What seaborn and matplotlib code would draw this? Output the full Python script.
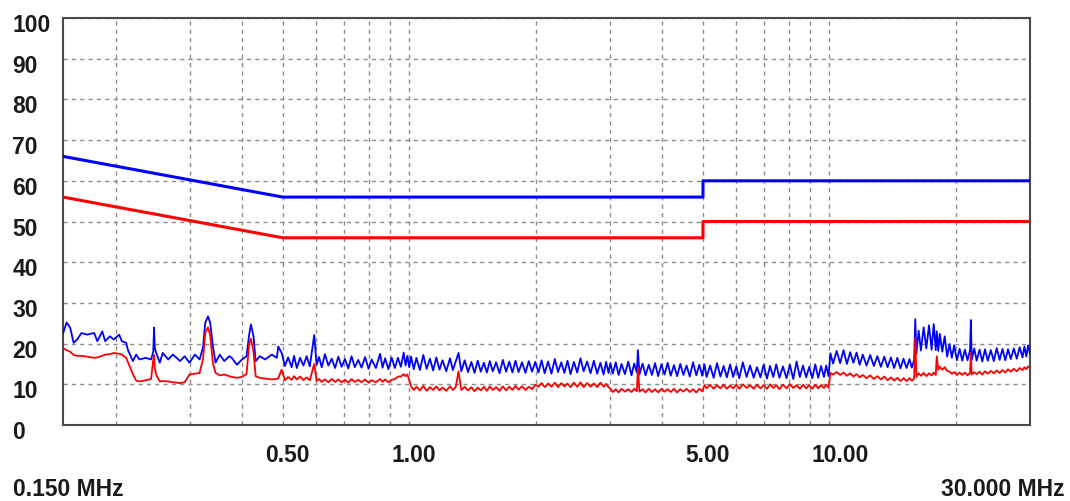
import matplotlib
matplotlib.use("Agg")
import matplotlib.pyplot as plt
from matplotlib.transforms import ScaledTranslation
import pandas as pd
import seaborn as sns

freq_mhz = [
    0.150, 0.151, 0.153, 0.156, 0.159, 0.162, 0.166, 0.171, 0.178, 0.181,
    0.186, 0.189, 0.194, 0.198, 0.204, 0.207, 0.212, 0.214, 0.220, 0.224,
    0.228, 0.236, 0.243, 0.246, 0.247, 0.248, 0.250, 0.255, 0.259, 0.267,
    0.274, 0.285, 0.292, 0.300, 0.309, 0.317, 0.323, 0.327, 0.332, 0.336,
    0.341, 0.346, 0.354, 0.363, 0.373, 0.378, 0.389, 0.399, 0.410, 0.416,
    0.420, 0.426, 0.431, 0.441, 0.454, 0.471, 0.484, 0.488, 0.497,
    0.506, 0.515, 0.525, 0.532, 0.540, 0.550, 0.560, 0.570, 0.580, 0.594,
    0.602, 0.610, 0.619, 0.630, 0.642, 0.654, 0.666, 0.678, 0.690, 0.703,
    0.716, 0.729, 0.742, 0.756, 0.770, 0.785, 0.800, 0.814, 0.833, 0.852,
    0.864, 0.876, 0.892, 0.908, 0.924, 0.94, 0.955, 0.97, 0.98, 0.99,
    1.00, 1.01, 1.025, 1.04, 1.06, 1.08, 1.10, 1.12, 1.14, 1.16,
    1.18, 1.20, 1.225, 1.25, 1.27, 1.29, 1.31, 1.33, 1.355, 1.38,
    1.405, 1.43, 1.455, 1.48, 1.505, 1.53, 1.555, 1.58, 1.61, 1.64,
    1.67, 1.70, 1.73, 1.76, 1.79, 1.82, 1.855, 1.89, 1.925, 1.96,
    1.995, 2.03, 2.065, 2.10, 2.14, 2.18, 2.22, 2.26, 2.30, 2.34,
    2.38, 2.42, 2.465, 2.51, 2.555, 2.60, 2.65, 2.70, 2.75, 2.80,
    2.85, 2.90, 2.94, 2.98, 3.01, 3.05, 3.10, 3.15, 3.20, 3.26,
    3.32, 3.38, 3.43, 3.48, 3.50, 3.53, 3.59, 3.65, 3.715, 3.78,
    3.845, 3.91, 3.98, 4.05, 4.12, 4.19, 4.265, 4.34, 4.415, 4.49,
    4.57, 4.65, 4.735, 4.82, 4.90, 4.98, 5.04, 5.1, 5.2, 5.3,
    5.4, 5.5, 5.6, 5.7, 5.8, 5.9, 6.0, 6.1, 6.22, 6.35,
    6.47, 6.6, 6.72, 6.85, 6.97, 7.1, 7.22, 7.35, 7.47, 7.6,
    7.75, 7.9, 8.05, 8.2, 8.35, 8.5, 8.65, 8.8, 8.95, 9.1,
    9.25, 9.4, 9.55, 9.7, 9.82, 9.95, 10.05, 10.2, 10.4, 10.6,
    10.8, 11.0, 11.2, 11.4, 11.6, 11.8, 12.0, 12.25, 12.5, 12.75,
    13.0, 13.25, 13.5, 13.75, 14.0, 14.25, 14.5, 14.75, 15.0, 15.25,
    15.5, 15.7, 15.9, 16.0, 16.1, 16.3, 16.5, 16.75, 17.0, 17.25,
    17.5, 17.7, 17.9, 18.0, 18.15, 18.3, 18.55, 18.8, 19.05, 19.3,
    19.55, 19.8, 20.1, 20.4, 20.7, 21.0, 21.3, 21.6, 21.7, 21.8,
    22.1, 22.4, 22.75, 23.1, 23.45, 23.8, 24.2, 24.6, 25.0, 25.4,
    25.8, 26.2, 26.6, 27.0, 27.45, 27.9, 28.35, 28.8, 29.1, 29.4,
    29.7, 30.0,
]
peak_db = [
    22.5, 23.4, 25.2, 23.9, 20.2, 21.0, 22.6, 22.2, 22.6, 20.6,
    23.0, 20.6, 21.8, 21.0, 22.2, 20.6, 20.2, 18.5, 15.7, 17.3,
    16.1, 16.5, 16.1, 18.0, 23.9, 19.0, 17.7, 15.3, 17.7, 16.1,
    17.3, 15.7, 16.9, 15.3, 17.3, 16.1, 19.0, 25.1, 26.7, 25.1,
    19.4, 15.3, 17.3, 15.7, 16.9, 16.5, 14.8, 16.0, 16.9, 22.2,
    24.7, 21.8, 15.7, 16.9, 16.1, 17.3, 16.5, 19.3, 17.7,
    14.5, 16.6, 14.2, 17.0, 14.0, 16.5, 14.6, 16.9, 14.4, 22.1,
    14.8, 16.7, 14.2, 17.4, 14.6, 16.3, 14.0, 16.8, 14.3, 16.2,
    13.9, 16.9, 14.2, 16.0, 14.1, 16.7, 13.8, 16.1, 14.0, 17.5,
    14.1, 16.4, 13.7, 16.6, 14.0, 16.5, 14.3, 17.8, 14.6, 17.0,
    14.2, 16.8, 13.7, 16.5, 13.5, 17.2, 13.8, 16.3, 13.4, 16.6,
    13.6, 15.9, 13.2, 16.4, 13.5, 15.6, 17.7, 13.2, 15.9, 13.0,
    15.5, 12.8, 15.8, 13.1, 15.3, 12.9, 15.7, 13.2, 15.4, 12.7,
    16.0, 13.1, 15.6, 12.9, 15.8, 13.0, 15.4, 12.8, 15.7, 13.1,
    15.5, 12.9, 15.9, 12.7, 15.6, 12.6, 16.2, 13.0, 15.4, 12.8,
    15.8, 12.5, 15.5, 12.9, 16.4, 13.2, 15.6, 12.7, 15.8, 12.6,
    15.3, 12.4, 15.5, 12.8, 15.2, 12.6, 15.4, 12.3, 15.0, 12.5,
    15.6, 12.2, 15.1, 12.9, 18.4, 12.4, 15.1, 12.2, 14.8, 12.3,
    15.2, 12.0, 14.9, 12.4, 15.3, 12.1, 14.7, 12.0, 15.0, 12.3,
    14.6, 11.9, 15.4, 12.2, 14.8, 12.1, 14.9, 11.8, 14.6, 11.6,
    15.2, 11.9, 14.5, 11.7, 14.9, 11.8, 14.4, 11.5, 15.4, 11.8,
    14.6, 11.6, 14.2, 11.7, 14.8, 11.4, 14.5, 11.8, 14.9, 11.6,
    14.4, 11.5, 14.8, 11.3, 15.6, 11.8, 14.6, 11.7, 14.3, 11.5,
    14.9, 11.6, 14.5, 11.8, 14.6, 12.0, 17.6, 15.1, 18.2, 15.2,
    18.4, 15.0, 17.9, 15.3, 17.8, 14.8, 17.3, 14.6, 17.2, 14.5,
    16.9, 14.3, 16.8, 14.2, 16.6, 14.0, 16.5, 13.9, 16.3, 14.0,
    16.2, 14.1, 16.0, 26.0, 17.5, 23.2, 18.3, 24.0, 18.8, 24.5,
    18.5, 24.8, 18.4, 23.0, 18.2, 22.4, 18.0, 21.8, 16.8, 19.9,
    16.5, 19.6, 15.9, 18.7, 15.8, 18.5, 15.9, 18.4, 25.8, 16.0,
    18.8, 15.8, 18.5, 15.6, 18.6, 15.8, 18.4, 15.7, 18.9, 16.0,
    18.7, 15.9, 18.6, 16.2, 18.8, 16.3, 19.1, 16.6, 19.3, 16.8,
    19.6, 17.5,
]
avg_db = [
    19.0, 18.7, 18.4, 18.0, 17.2, 17.0, 17.0, 16.8, 16.5, 16.6,
    17.0, 17.3, 17.4, 17.7, 17.5, 17.3, 16.5, 15.5, 12.5, 10.9,
    10.7, 11.0, 11.3, 16.1, 17.2, 14.0, 12.3, 10.7, 10.8, 10.7,
    10.5, 10.3, 10.5, 12.4, 12.6, 12.8, 16.1, 22.6, 24.0, 22.0,
    15.2, 12.8, 12.2, 12.4, 12.0, 11.8, 11.6, 11.8, 12.5, 20.0,
    21.2, 18.0, 12.0, 11.6, 11.4, 11.2, 11.3, 11.5, 13.6,
    11.0, 11.8, 11.1, 12.0, 11.2, 11.9, 11.0, 11.7, 11.0, 15.0,
    10.8, 11.3, 10.6, 11.2, 10.5, 11.3, 10.6, 11.2, 10.5, 11.1,
    10.4, 11.3, 10.6, 11.1, 10.5, 11.2, 10.4, 11.0, 10.5, 11.3,
    10.6, 11.2, 10.5, 11.1, 11.3, 11.9, 11.9, 12.5, 12.0, 12.4,
    11.0, 9.5, 8.6, 9.4, 8.5, 9.6, 8.4, 9.3, 8.6, 9.5,
    8.5, 9.2, 8.4, 9.5, 8.6, 9.3, 13.2, 8.6, 9.4, 8.5,
    9.3, 8.3, 9.2, 8.5, 9.4, 8.4, 9.5, 8.6, 9.3, 8.4,
    9.5, 8.5, 9.4, 8.6, 9.6, 8.7, 9.5, 8.6, 9.4, 8.8,
    9.9, 9.4, 10.3, 9.3, 10.2, 9.4, 10.4, 9.3, 10.3, 9.5,
    10.2, 9.3, 10.4, 9.4, 10.5, 9.3, 10.3, 9.4, 10.2, 9.3,
    10.4, 9.4, 10.1, 9.3, 8.9, 8.1, 8.8, 8.0, 8.9, 8.2,
    8.8, 8.1, 8.9, 8.3, 14.0, 8.2, 8.8, 8.0, 8.9, 8.1,
    8.8, 8.0, 8.9, 8.2, 8.8, 8.1, 8.9, 8.0, 8.8, 8.2,
    8.9, 8.1, 8.8, 8.0, 8.9, 8.3, 9.8, 9.0, 9.9, 8.9,
    9.8, 9.0, 9.9, 8.9, 9.7, 9.0, 9.9, 8.9, 10.0, 9.1,
    9.8, 8.9, 9.9, 9.0, 9.8, 8.9, 10.0, 9.1, 9.8, 8.8,
    9.9, 9.0, 10.0, 9.1, 9.8, 8.9, 9.9, 9.0, 9.8, 8.9,
    9.9, 9.0, 9.8, 9.1, 9.9, 9.2, 12.8, 12.4, 13.0, 12.3,
    12.9, 12.1, 12.7, 11.9, 12.5, 11.7, 12.3, 11.5, 12.2, 11.3,
    12.0, 11.2, 11.9, 11.0, 11.7, 10.9, 11.6, 10.8, 11.5, 10.8,
    11.5, 10.9, 11.4, 21.4, 11.8, 12.7, 12.1, 12.8, 12.0, 12.7,
    12.2, 12.9, 12.3, 16.9, 13.6, 14.3, 13.6, 14.2, 13.3, 13.1,
    12.6, 13.0, 12.3, 12.9, 12.3, 12.9, 12.2, 12.8, 17.7, 12.4,
    13.0, 12.5, 13.1, 12.4, 13.2, 12.6, 13.3, 12.7, 13.4, 12.8,
    13.5, 12.9, 13.7, 13.1, 13.8, 13.2, 14.0, 13.5, 14.2, 13.7,
    14.4, 14.0,
]
assert len(freq_mhz) == len(peak_db) == len(avg_db)

# limit lines (quasi-peak and average)
limit_freq = [0.15, 0.5, 5.0, 5.0, 30.0]
qp_limit_db = [66, 56, 56, 60, 60]
av_limit_db = [56, 46, 46, 50, 50]

y_ticks = [0, 10, 20, 30, 40, 50, 60, 70, 80, 90, 100]
x_ticks = [0.5, 1.0, 5.0, 10.0]
x_tick_labels = ["0.50", "1.00", "5.00", "10.00"]
x_grid = [0.2, 0.3, 0.4, 0.6, 0.7, 0.8, 0.9, 2, 3, 4, 6, 7, 8, 9, 20]

sns.set_style("white")
plt.rcParams["font.family"] = ["Liberation Sans", "DejaVu Sans"]

trace = pd.DataFrame({"freq": freq_mhz, "peak": peak_db, "avg": avg_db})
limits = pd.DataFrame({"freq": limit_freq, "qp": qp_limit_db, "av": av_limit_db})

fig = plt.figure(figsize=(10.7, 5.01), dpi=100)
ax = fig.add_axes([63 / 1070, 76 / 501, 967 / 1070, 407 / 501])

line_kw = dict(estimator=None, sort=False, legend=False, ax=ax)
sns.lineplot(data=trace, x="freq", y="peak", color="#0000ff", lw=1.3, zorder=3, **line_kw)
sns.lineplot(data=trace, x="freq", y="avg", color="#ff0000", lw=1.3, zorder=4, **line_kw)
sns.lineplot(data=limits, x="freq", y="qp", color="#0000ff", lw=2.2, zorder=5, **line_kw)
sns.lineplot(data=limits, x="freq", y="av", color="#ff0000", lw=2.2, zorder=5, **line_kw)

ax.set_xscale("log")
ax.set_xlim(0.15, 30)
ax.set_ylim(0, 100)
ax.set_xticks(x_ticks)
ax.set_xticks(x_grid, minor=True)
ax.set_xticklabels(x_tick_labels, fontsize=16.5, fontweight="bold", ha="left", color="#1a1a1a")
ax.set_xticklabels([], minor=True)
ax.set_yticks(y_ticks)
ax.set_yticklabels([str(v) for v in y_ticks], fontsize=16.5, fontweight="bold",
                   ha="left", color="#1a1a1a")
ax.tick_params(axis="both", which="both", length=0)
ax.tick_params(axis="y", pad=36.5)
ax.tick_params(axis="x", pad=14)
ax.set_xlabel("")
ax.set_ylabel("")

grid_kw = dict(color="#8c8c8c", lw=1.0, linestyle=(0, (3, 3)))
ax.grid(axis="x", which="both", **grid_kw)
ax.grid(axis="y", which="major", **grid_kw)
ax.set_axisbelow(True)

for side in ["left", "right", "top", "bottom"]:
    ax.spines[side].set_visible(True)
    ax.spines[side].set_color("#4a4a4a")
    ax.spines[side].set_linewidth(1.5)

# shift tick labels the way the original instrument software places them
for lab in ax.get_xticklabels():
    lab.set_transform(lab.get_transform() + ScaledTranslation(-18 / 100, 0, fig.dpi_scale_trans))
for lab in ax.get_yticklabels():
    lab.set_transform(lab.get_transform() + ScaledTranslation(0, -5 / 100, fig.dpi_scale_trans))

fig.text(13 / 1070, 1 - 490 / 501, "0.150 MHz", fontsize=16.5, fontweight="bold",
         ha="left", va="center", color="#1a1a1a")
fig.text(1065 / 1070, 1 - 490 / 501, "30.000 MHz", fontsize=16.5, fontweight="bold",
         ha="right", va="center", color="#1a1a1a")

fig.savefig("out.png", dpi=100, facecolor="white")
